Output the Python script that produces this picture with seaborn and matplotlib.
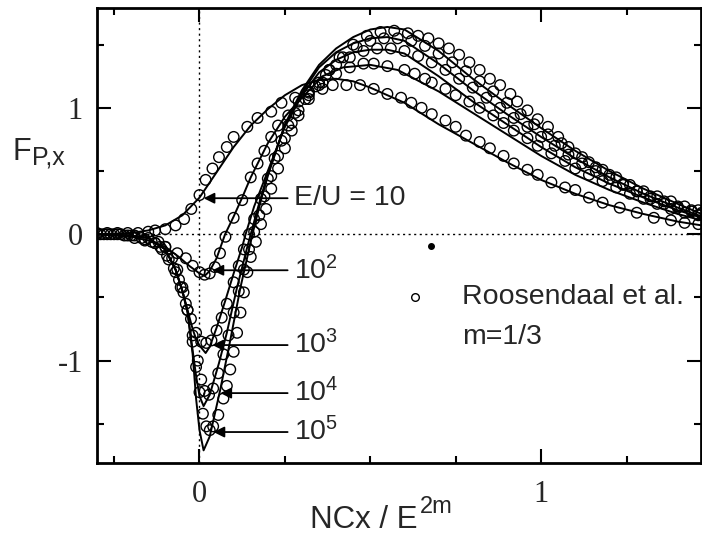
import numpy as np
import pandas as pd
import matplotlib
matplotlib.use("Agg")
import matplotlib.pyplot as plt
import seaborn as sns

# ---------------- data ----------------
# solid lines (model), one per E/U
l10_x = [-0.3, -0.2, -0.15, -0.1, -0.05, 0.0, 0.05, 0.1, 0.15, 0.2, 0.25, 0.3, 0.35, 0.4, 0.45, 0.5,
         0.6, 0.7, 0.8, 0.9, 1.0, 1.1, 1.2, 1.3, 1.4, 1.47]
l10_y = [0.0, 0.01, 0.03, 0.07, 0.15, 0.29, 0.49, 0.69, 0.86, 0.99, 1.1, 1.18, 1.22, 1.23, 1.21, 1.16,
         1.04, 0.87, 0.72, 0.57, 0.43, 0.32, 0.23, 0.16, 0.1, 0.07]

l100_x = [-0.3, -0.2, -0.15, -0.1, -0.06, -0.03, 0.0, 0.015, 0.03, 0.05, 0.075, 0.1, 0.125, 0.15, 0.2,
          0.25, 0.3, 0.36, 0.42, 0.5, 0.58, 0.7, 0.8, 0.9, 1.0, 1.1, 1.2, 1.3, 1.4, 1.47]
l100_y = [0.0, -0.02, -0.05, -0.1, -0.18, -0.25, -0.31, -0.33, -0.29, -0.19, 0.0, 0.14, 0.29, 0.45, 0.72,
          0.93, 1.08, 1.25, 1.32, 1.34, 1.3, 1.13, 0.96, 0.79, 0.62, 0.47, 0.35, 0.25, 0.16, 0.11]

l1k_x = [-0.3, -0.2, -0.15, -0.1, -0.07, -0.05, -0.035, -0.02, -0.01, 0.0, 0.018, 0.03, 0.05, 0.075,
         0.1, 0.125, 0.135, 0.16, 0.2, 0.25, 0.3, 0.35, 0.4, 0.45, 0.5, 0.55, 0.6, 0.7, 0.8, 0.9, 1.0,
         1.1, 1.2, 1.3, 1.4, 1.47]
l1k_y = [0.0, -0.01, -0.03, -0.12, -0.28, -0.45, -0.6, -0.75, -0.83, -0.88, -0.94, -0.89, -0.74, -0.53,
         -0.31, -0.1, 0.0, 0.22, 0.5, 0.85, 1.1, 1.28, 1.38, 1.44, 1.46, 1.46, 1.43, 1.25, 1.05, 0.87,
         0.69, 0.53, 0.4, 0.29, 0.19, 0.13]

l10k_x = [-0.3, -0.2, -0.15, -0.1, -0.07, -0.05, -0.035, -0.02, -0.01, 0.0, 0.012, 0.03, 0.057, 0.08,
          0.11, 0.14, 0.15, 0.17, 0.2, 0.25, 0.3, 0.35, 0.4, 0.45, 0.5, 0.55, 0.6, 0.7, 0.8, 0.9, 1.0,
          1.1, 1.2, 1.3, 1.4, 1.47]
l10k_y = [0.0, -0.01, -0.03, -0.12, -0.28, -0.45, -0.61, -0.92, -1.12, -1.28, -1.36, -1.27, -1.02, -0.78,
          -0.42, -0.1, 0.0, 0.2, 0.48, 0.86, 1.12, 1.32, 1.44, 1.51, 1.55, 1.56, 1.53, 1.35, 1.14, 0.95,
          0.77, 0.6, 0.45, 0.32, 0.21, 0.14]

l100k_x = [-0.3, -0.2, -0.15, -0.1, -0.07, -0.05, -0.035, -0.02, -0.01, 0.0, 0.012, 0.03, 0.06, 0.09,
           0.12, 0.155, 0.18, 0.2, 0.25, 0.3, 0.35, 0.4, 0.45, 0.5, 0.55, 0.6, 0.7, 0.8, 0.9, 1.0, 1.1,
           1.2, 1.3, 1.4, 1.47]
l100k_y = [0.0, -0.01, -0.03, -0.12, -0.28, -0.45, -0.62, -0.95, -1.3, -1.55, -1.71, -1.6, -1.24, -0.84,
           -0.42, 0.0, 0.27, 0.46, 0.87, 1.14, 1.34, 1.47, 1.56, 1.62, 1.64, 1.62, 1.45, 1.23, 1.03, 0.84,
           0.66, 0.5, 0.36, 0.24, 0.16]

# circles (Roosendaal et al.)
c10_x = [-0.3, -0.27, -0.24, -0.21, -0.18, -0.15, -0.13, -0.1, -0.07, -0.045, -0.024, 0.0, 0.018, 0.038,
         0.057, 0.08, 0.1, 0.14, 0.17, 0.21, 0.24, 0.28, 0.32, 0.36, 0.39, 0.43, 0.47, 0.51, 0.55, 0.59,
         0.62, 0.65, 0.68, 0.72, 0.75, 0.78, 0.82, 0.85, 0.89, 0.92, 0.96, 0.99, 1.03, 1.07, 1.1, 1.14,
         1.18, 1.23, 1.28, 1.33, 1.38, 1.42, 1.46]
c10_y = [0.01, 0.01, 0.01, 0.01, 0.01, 0.02, 0.03, 0.04, 0.07, 0.12, 0.2, 0.31, 0.43, 0.52, 0.61, 0.69,
         0.77, 0.85, 0.92, 0.97, 1.04, 1.08, 1.12, 1.15, 1.18, 1.18, 1.18, 1.15, 1.11, 1.08, 1.04, 1.0,
         0.95, 0.9, 0.85, 0.78, 0.73, 0.68, 0.62, 0.56, 0.51, 0.47, 0.41, 0.37, 0.35, 0.29, 0.25, 0.21,
         0.17, 0.13, 0.11, 0.09, 0.08]

c100_x = [-0.3, -0.26, -0.22, -0.19, -0.16, -0.13, -0.1, -0.065, -0.04, -0.02, 0.0, 0.015, 0.03, 0.045,
          0.06, 0.076, 0.1, 0.125, 0.15, 0.17, 0.19, 0.21, 0.23, 0.26, 0.29, 0.32, 0.36, 0.4, 0.44, 0.48,
          0.51, 0.55, 0.6, 0.63, 0.66, 0.68, 0.72, 0.75, 0.79, 0.82, 0.86, 0.89, 0.92, 0.96, 0.99, 1.03,
          1.07, 1.1, 1.14, 1.18, 1.22, 1.26, 1.3, 1.34, 1.38, 1.42, 1.46]
c100_y = [0.0, 0.0, -0.01, -0.03, -0.05, -0.07, -0.1, -0.15, -0.19, -0.25, -0.3, -0.32, -0.31, -0.26,
          -0.15, -0.02, 0.13, 0.27, 0.45, 0.56, 0.66, 0.77, 0.86, 0.94, 1.05, 1.13, 1.2, 1.27, 1.32, 1.35,
          1.35, 1.33, 1.3, 1.27, 1.23, 1.2, 1.15, 1.1, 1.05, 1.0, 0.94, 0.88, 0.82, 0.76, 0.7, 0.64,
          0.58, 0.52, 0.47, 0.42, 0.37, 0.32, 0.28, 0.24, 0.2, 0.17, 0.15]

c1k_x = [-0.28, -0.24, -0.2, -0.16, -0.13, -0.11, -0.09, -0.07, -0.055, -0.04, -0.025, -0.01, 0.005, 0.02,
         0.035, 0.05, 0.065, 0.08, 0.1, 0.115, 0.13, 0.145, 0.16, 0.18, 0.2, 0.22, 0.24, 0.26, 0.28,
         0.31, 0.34, 0.37, 0.4, 0.44, 0.48, 0.52, 0.56, 0.6, 0.64, 0.68, 0.72, 0.76, 0.8, 0.84, 0.88,
         0.92, 0.96, 1.0, 1.04, 1.08, 1.12, 1.16, 1.2, 1.24, 1.28, 1.32, 1.36, 1.4, 1.44, 1.47]
c1k_y = [0.0, 0.0, -0.01, -0.04, -0.07, -0.12, -0.2, -0.3, -0.42, -0.55, -0.67, -0.78, -0.85, -0.86,
         -0.84, -0.76, -0.66, -0.55, -0.38, -0.25, -0.12, 0.0, 0.12, 0.28, 0.44, 0.6, 0.74, 0.86, 0.96,
         1.07, 1.17, 1.26, 1.34, 1.4, 1.45, 1.47, 1.47, 1.45, 1.41, 1.36, 1.3, 1.23, 1.16, 1.08, 1.0,
         0.92, 0.85, 0.77, 0.7, 0.63, 0.56, 0.5, 0.44, 0.39, 0.34, 0.3, 0.26, 0.22, 0.19, 0.17]

c10k_x = [-0.29, -0.25, -0.21, -0.17, -0.14, -0.115, -0.095, -0.075, -0.06, -0.047, -0.035, -0.02,
          -0.005, 0.005, 0.015, 0.028, 0.04, 0.055, 0.07, 0.085, 0.1, 0.115, 0.13, 0.145, 0.16, 0.175,
          0.19, 0.21, 0.23, 0.25, 0.27, 0.29, 0.32, 0.35, 0.38, 0.42, 0.46, 0.5, 0.54, 0.58, 0.62, 0.66,
          0.7, 0.74, 0.78, 0.82, 0.86, 0.9, 0.94, 0.98, 1.02, 1.06, 1.1, 1.14, 1.18, 1.22, 1.26, 1.3,
          1.34, 1.38, 1.42, 1.46]
c10k_y = [0.0, 0.0, -0.01, -0.03, -0.06, -0.1, -0.17, -0.27, -0.36, -0.46, -0.6, -0.8, -1.0, -1.15,
          -1.24, -1.27, -1.22, -1.1, -0.95, -0.8, -0.62, -0.45, -0.28, -0.12, 0.02, 0.15, 0.3, 0.46,
          0.62, 0.76, 0.88, 0.98, 1.1, 1.2, 1.3, 1.4, 1.48, 1.53, 1.55, 1.55, 1.53, 1.49, 1.43, 1.36,
          1.29, 1.21, 1.13, 1.04, 0.95, 0.87, 0.79, 0.72, 0.64, 0.57, 0.51, 0.45, 0.39, 0.34, 0.3, 0.26,
          0.22, 0.19]

c100k_x = [-0.27, -0.23, -0.19, -0.15, -0.12, -0.1, -0.08, -0.065, -0.05, -0.035, -0.02, -0.01, 0.0,
           0.01, 0.02, 0.03, 0.04, 0.055, 0.07, 0.08, 0.09, 0.1, 0.11, 0.12, 0.13, 0.14, 0.15, 0.165,
           0.18, 0.195, 0.21, 0.23, 0.25, 0.27, 0.29, 0.32, 0.35, 0.38, 0.41, 0.45, 0.49, 0.53, 0.57,
           0.61, 0.64, 0.67, 0.7, 0.73, 0.76, 0.79, 0.82, 0.85, 0.88, 0.91, 0.93, 0.96, 0.99, 1.02, 1.05,
           1.08, 1.12, 1.16, 1.2, 1.24, 1.28, 1.32, 1.36, 1.4, 1.44, 1.47]
c100k_y = [0.0, 0.0, -0.01, -0.03, -0.06, -0.1, -0.19, -0.28, -0.42, -0.6, -0.85, -1.05, -1.25, -1.42,
           -1.52, -1.55, -1.52, -1.43, -1.3, -1.2, -1.07, -0.93, -0.78, -0.62, -0.46, -0.3, -0.18, -0.06,
           0.08, 0.2, 0.36, 0.52, 0.68, 0.82, 0.94, 1.07, 1.18, 1.3, 1.4, 1.5, 1.57, 1.6, 1.61, 1.59,
           1.57, 1.55, 1.51, 1.47, 1.42, 1.36, 1.3, 1.23, 1.18, 1.11, 1.05, 0.98, 0.91, 0.85, 0.77, 0.69,
           0.61, 0.53, 0.47, 0.4, 0.34, 0.28, 0.24, 0.21, 0.18, 0.16]

series_names = ["10", "1e2", "1e3", "1e4", "1e5"]
line_x = [l10_x, l100_x, l1k_x, l10k_x, l100k_x]
line_y = [l10_y, l100_y, l1k_y, l10k_y, l100k_y]
circ_x = [c10_x, c100_x, c1k_x, c10k_x, c100k_x]
circ_y = [c10_y, c100_y, c1k_y, c10k_y, c100k_y]

# labels and arrows
label_texts = ["E/U = 10", r"$\mathregular{10^2}$", r"$\mathregular{10^3}$",
               r"$\mathregular{10^4}$", r"$\mathregular{10^5}$"]
arrow_tip_x = [0.012, 0.038, 0.038, 0.061, 0.041]
arrow_y = [0.285, -0.285, -0.877, -1.257, -1.565]

# ---------------- figure ----------------
sns.set_theme(style="ticks")
plt.rcParams["font.family"] = ["Liberation Sans", "DejaVu Sans"]
plt.rcParams["mathtext.fontset"] = "custom"
plt.rcParams["mathtext.rm"] = "Liberation Sans"

W, H = 702, 534
fig = plt.figure(figsize=(W / 100, H / 100), dpi=100)
ax = fig.add_axes([97 / W, 1 - 463 / H, (701 - 97) / W, (463 - 8) / H])

line_df = pd.concat([pd.DataFrame({"x": x, "y": y, "s": n})
                     for x, y, n in zip(line_x, line_y, series_names)], ignore_index=True)
circ_df = pd.concat([pd.DataFrame({"x": x, "y": y, "s": n})
                     for x, y, n in zip(circ_x, circ_y, series_names)], ignore_index=True)

pal = {n: "black" for n in series_names}
sns.lineplot(data=line_df, x="x", y="y", hue="s", units="s", estimator=None, sort=False,
             palette=pal, lw=1.4, legend=False, ax=ax)
sns.scatterplot(data=circ_df, x="x", y="y", marker="o", s=58, facecolor="none",
                edgecolor="black", linewidth=1.0, legend=False, ax=ax, zorder=3)

# dotted reference lines
ax.axhline(0, color="black", lw=1.0, ls=(0, (1.5, 2.5)), zorder=1)
ax.axvline(0, color="black", lw=1.0, ls=(0, (1.5, 2.5)), zorder=1)

# arrows and labels
for txt, tx, yy in zip(label_texts, arrow_tip_x, arrow_y):
    ax.annotate("", xy=(tx, yy), xytext=(0.258, yy),
                arrowprops=dict(arrowstyle="-|>", color="black", lw=1.3,
                                mutation_scale=16, shrinkA=0, shrinkB=0))
    ax.text(0.278, yy, txt, fontsize=20.5, va="center", ha="left")

# legend-like annotation
ax.plot([0.632], [-0.5], marker="o", ms=5.5, mfc="none", mec="black", mew=1.0)
ax.text(0.769, -0.5, "Roosendaal et al.", fontsize=20.5, va="center", ha="left")
ax.text(0.769, -0.81, "m=1/3", fontsize=20.5, va="center", ha="left")
# small blot in the scan
ax.plot([0.678], [-0.095], marker="o", ms=4, color="black")

ax.set_xlim(-0.3, 1.468)
ax.set_ylim(-1.81, 1.79)
ax.set_xticks([0, 1])
ax.set_xticks([-0.25, 0.25, 0.5, 0.75, 1.25], minor=True)
ax.set_yticks([-1, 0, 1])
ax.set_yticks([-1.5, -0.5, 0.5, 1.5], minor=True)
serif = ["Liberation Serif", "DejaVu Serif"]
ax.set_xticklabels(["0", "1"], family=serif, fontsize=22)
ax.set_yticklabels(["-1", "0", "1"], family=serif, fontsize=22)
ax.tick_params(which="both", direction="in", top=True, right=True, width=1.5, color="black")
ax.tick_params(which="major", length=10)
ax.tick_params(axis="x", which="major", pad=12)
ax.tick_params(axis="y", which="major", pad=10)
ax.tick_params(which="minor", length=5)
for sp in ax.spines.values():
    sp.set_linewidth(2)
    sp.set_color("black")
ax.set_xlabel("")
ax.set_ylabel("")

# y-axis label F_{P,x}
fig.text(12 / W, 1 - 160 / H, "F", fontsize=22, va="baseline", ha="left")
fig.text(32 / W, 1 - 165 / H, "P,x", fontsize=18, va="baseline", ha="left")
# x-axis label NCx / E^{2m}
fig.text(310 / W, 1 - 528 / H, "NCx / E", fontsize=22.5, va="baseline", ha="left")
fig.text(420 / W, 1 - 513 / H, "2m", fontsize=17, va="baseline", ha="left")

fig.savefig("out.png", dpi=100, facecolor="white")
